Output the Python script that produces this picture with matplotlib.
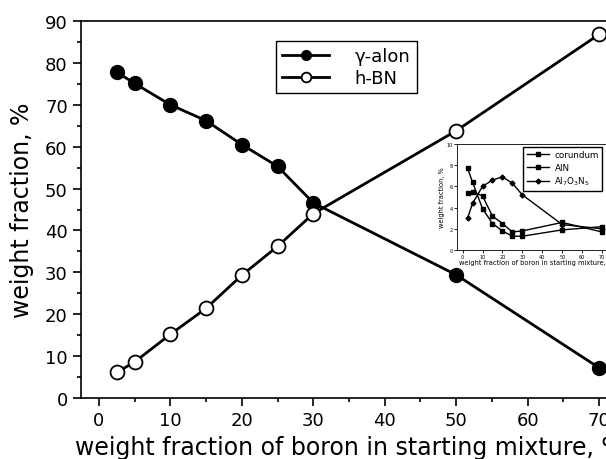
import numpy as np
import matplotlib
matplotlib.use('Agg')
import matplotlib.pyplot as plt

# main plot data
boron = [2.5, 5, 10, 15, 20, 25, 30, 50, 70]
alon = [77.8, 75.1, 70.0, 66.2, 60.5, 55.3, 46.6, 29.4, 7.2]
hbn = [6.1, 8.6, 15.2, 21.4, 29.3, 36.2, 44.0, 63.8, 86.8]

# inset data
corundum = [7.7, 6.4, 3.9, 2.5, 1.8, 1.3, 1.3, 1.9, 2.2]
aln = [5.4, 5.5, 5.1, 3.2, 2.5, 1.7, 1.8, 2.6, 1.7]
al7o3n5 = [3.0, 4.4, 6.0, 6.6, 6.9, 6.3, 5.2, 2.4, 2.0]

plt.rcParams['font.family'] = ['DejaVu Sans']
W, H = 606, 460
fig = plt.figure(figsize=(W / 100, H / 100), dpi=100)

# axes extends past the right edge (original was cropped)
ax = fig.add_axes([81 / W, 61 / H, 536 / W, 377 / H])
ax.plot(boron, alon, 'o-', color='black', lw=2.0, ms=10, mfc='black', label='γ-alon')
ax.plot(boron, hbn, 'o-', color='black', lw=2.0, ms=10, mfc='white', mew=1.3, label='h-BN')
ax.set_xlim(-2.5, 72.5)
ax.set_ylim(0, 90)
ax.set_xticks(np.arange(0, 71, 10))
ax.set_xticks(np.arange(0, 71, 5), minor=True)
ax.set_yticks(np.arange(0, 91, 10))
ax.set_yticks(np.arange(0, 91, 5), minor=True)
ax.tick_params(which='major', direction='out', length=6, width=1.2, labelsize=13)
ax.tick_params(which='minor', direction='out', length=3, width=1.2)
for s in ax.spines.values():
    s.set_linewidth(1.2)
ax.set_xlabel('weight fraction of boron in starting mixture, %', fontsize=17, labelpad=4)
ax.set_ylabel('weight fraction, %', fontsize=17, labelpad=8)
leg = ax.legend(loc='upper left', bbox_to_anchor=(276 / W, 1 - 42 / H),
                bbox_transform=fig.transFigure, fontsize=13, handlelength=2.6,
                handletextpad=1.4, markerscale=0.7, labelspacing=0.2,
                fancybox=False, edgecolor='black', framealpha=1,
                borderpad=0.35, borderaxespad=0)
leg.get_frame().set_linewidth(1.0)

# inset
ins = fig.add_axes([457 / W, (H - 251) / H, 160 / W, 106 / H])
ins.plot(boron, corundum, 's-', color='black', lw=1.0, ms=2.5, label='corundum')
ins.plot(boron, aln, 's-', color='black', lw=1.0, ms=2.5, label='AlN')
ins.plot(boron, al7o3n5, 'D-', color='black', lw=1.0, ms=2.5, label='Al$_7$O$_3$N$_5$')
ins.set_xlim(-2.8, 77.5)
ins.set_ylim(0, 10)
ins.set_xticks(np.arange(0, 71, 10))
ins.set_yticks(np.arange(0, 11, 2))
ins.tick_params(direction='out', length=2, width=0.6, labelsize=3.5, pad=1)
for s in ins.spines.values():
    s.set_linewidth(0.6)
ins.set_xlabel('weight fraction of boron in starting mixture, %', fontsize=4.8, labelpad=0)
ins.set_ylabel('weight fraction, %', fontsize=4.8, labelpad=1)
ins.legend(loc='upper left', bbox_to_anchor=(523 / W, 1 - 148 / H),
           bbox_transform=fig.transFigure, fontsize=6.3, handlelength=2.6,
           handletextpad=0.6, fancybox=False, edgecolor='black', framealpha=1,
           borderpad=0.4, labelspacing=0.35, borderaxespad=0)

fig.savefig('out.png', dpi=100)
